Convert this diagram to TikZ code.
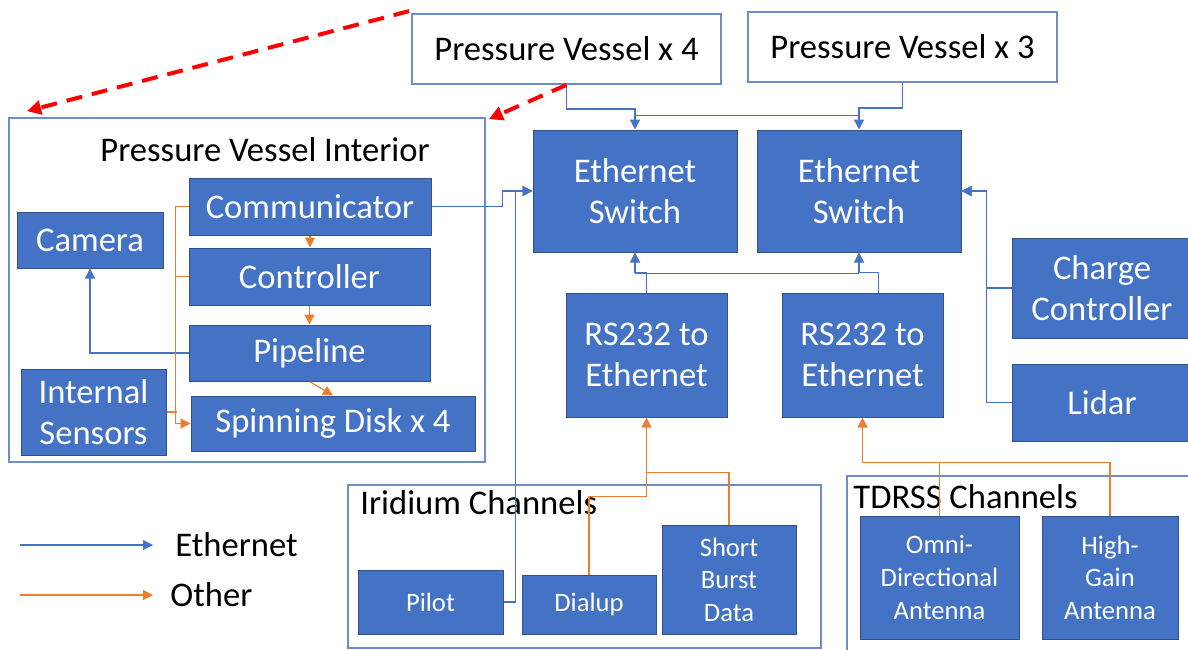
\documentclass[tikz,border=0pt]{standalone}
\usepackage{fontspec}
\setmainfont{Carlito}
\usetikzlibrary{arrows.meta, positioning, calc}
\definecolor{blkfill}{HTML}{4472C4}
\definecolor{blkline}{HTML}{2F528F}
\definecolor{ethblue}{HTML}{4472C4}
\definecolor{othorange}{HTML}{ED7D31}
\definecolor{frameblue}{HTML}{6E8CC8}

\begin{document}
\begin{tikzpicture}[
    x=0.5pt, y=-0.5pt,
    blk/.style={rectangle, draw=blkline, line width=0.5pt, fill=blkfill,
                text=white, align=center, inner sep=0pt,
                font=\fontsize{17.3}{20.8}\selectfont},
    sblk/.style={blk, font=\fontsize{13.3}{16.3}\selectfont},
    frame/.style={rectangle, draw=frameblue, line width=0.9pt, inner sep=0pt},
    pvbox/.style={frame, fill=white, font=\fontsize{17.3}{20.8}\selectfont},
    title/.style={inner sep=0pt, font=\fontsize{17.3}{20.8}\selectfont},
    eth/.style={draw=ethblue, line width=0.6pt, -{Triangle[length=5pt, width=5pt]}},
    ethl/.style={draw=ethblue, line width=0.6pt},
    oth/.style={draw=othorange, line width=0.6pt, -{Triangle[length=5pt, width=5pt]}},
    othl/.style={draw=othorange, line width=0.6pt},
    pvlink/.style={draw=red, line width=2pt, dash pattern=on 8pt off 5pt,
                   -{Triangle[length=7pt, width=7pt]}}
]
\useasboundingbox (0,0) rectangle (1188,649);

% containers
\node[frame, minimum width=238pt, minimum height=172pt] (int) at (247,290) {};
\node[title] (inttxt) at (265,150) {Pressure Vessel Interior};
\node[frame, minimum width=236.5pt, minimum height=81.5pt] (irid) at (584.5,566.5) {};
\node[title, anchor=west] (iridtxt) at (360,503) {Iridium Channels};
\node[frame, minimum width=174pt, minimum height=92pt] (tdrss) at (1021,568) {};
\node[title, anchor=west] (tdrsstxt) at (853,497) {TDRSS Channels};

% pressure vessels
\node[pvbox, minimum width=154.5pt, minimum height=35pt] (pv4) at (566.5,49) {Pressure Vessel x 4};
\node[pvbox, minimum width=154.5pt, minimum height=35pt] (pv3) at (902.5,47) {Pressure Vessel x 3};

% interior blocks
\node[blk, minimum width=121pt, minimum height=28.5pt] (comm) at (310,206.5) {Communicator};
\node[blk, minimum width=73pt, minimum height=28pt] (cam) at (90,240) {Camera};
\node[blk, minimum width=120.5pt, minimum height=28.5pt] (ctrl) at (309.5,276.5) {Controller};
\node[blk, minimum width=120.5pt, minimum height=28pt] (pipe) at (309.5,353) {Pipeline};
\node[blk, minimum width=72.5pt, minimum height=43pt] (sens) at (93.5,412) {Internal\\Sensors};
\node[blk, minimum width=142pt, minimum height=27.5pt] (disk) at (333,423.5) {Spinning Disk x 4};

% switches and converters
\node[blk, minimum width=102pt, minimum height=61pt] (es1) at (635,191) {Ethernet\\Switch};
\node[blk, minimum width=102pt, minimum height=61pt] (es2) at (859,191) {Ethernet\\Switch};
\node[blk, minimum width=80.5pt, minimum height=62pt] (rs1) at (646.5,355) {RS232 to\\Ethernet};
\node[blk, minimum width=80.5pt, minimum height=62pt] (rs2) at (862.5,355) {RS232 to\\Ethernet};
\node[blk, minimum width=90pt, minimum height=50pt] (charge) at (1102,288) {Charge\\Controller};
\node[blk, minimum width=90pt, minimum height=38.5pt] (lidar) at (1102,402.5) {Lidar};

% channels
\node[sblk, minimum width=72.5pt, minimum height=32pt] (pilot) at (430.5,602) {Pilot};
\node[sblk, minimum width=67pt, minimum height=29.5pt] (dial) at (589,604.5) {Dialup};
\node[sblk, minimum width=67pt, minimum height=54.5pt] (sbd) at (729,579.5) {Short\\Burst\\Data};
\node[sblk, minimum width=79.5pt, minimum height=61.5pt] (omni) at (939.5,577.5) {Omni-\\Directional\\Antenna};
\node[sblk, minimum width=68pt, minimum height=61.5pt] (hg) at (1110,577.5) {High-\\Gain\\Antenna};

% ethernet links
\draw[eth] (pv4.south) -- ++(0,24) -| (es1.north);
\draw[eth] (pv3.south) -- ++(0,25) -| (es2.north);
\draw[ethl] ($(es1.north)+(0,-14)$) -- ($(es2.north)+(0,-14)$);
\draw[eth] (comm.east) -- ++(71,0) |- (es1.west);
\draw[eth] (pilot.east) -- ++(12,0) |- (es1.west);
\draw[eth] (rs1.north) -- ++(0,-20) -| (es1.south);
\draw[eth] ($(rs2.north)+(16,0)$) -- ++(0,-20) -| (es2.south);
\draw[ethl] ($(es1.south)+(0,21)$) -- ($(es2.south)+(0,21)$);
\draw[eth] (charge.west) -- ++(-25,0) |- (es2.east);
\draw[eth] (lidar.west) -- ++(-25,0) |- (es2.east);
\draw[eth] (pipe.west) -| (cam.south);

% other links
\draw[oth] (comm.south) -- (comm.south |- ctrl.north);
\draw[oth] (ctrl.south) -- (pipe.north);
\draw[oth] (pipe.south) -- (disk.north);
\draw[oth] (comm.west) -- ++(-13,0) |- (disk.west);
\draw[othl] (ctrl.west) -- ++(-13,0);
\draw[othl] (sens.east) -- ++(10,0);
\draw[oth] (dial.north) -- ++(0,-78) -| (rs1.south);
\draw[othl] (sbd.north) |- ($(rs1.south)+(0,55)$);
\draw[oth] (hg.north) -- ++(0,-53) -| (rs2.south);
\draw[othl] (omni.north) -- ++(0,-53);

% pressure vessel expansion
\draw[pvlink] ($(pv4.north west)+(-2,-2)$) -- ($(int.north west)+(19,-6)$);
\draw[pvlink] (pv4.south) -- ($(int.north east)+(3,2)$);

% legend
\coordinate (ethA) at (20,545);
\coordinate (ethB) at (153,545);
\coordinate (othA) at (20,595);
\coordinate (othB) at (153,595);
\draw[eth] (ethA) -- (ethB);
\draw[oth] (othA) -- (othB);
\node[title, anchor=west] (ethtxt) at (175,545) {Ethernet};
\node[title, anchor=west] (othtxt) at (170,595) {Other};
\end{tikzpicture}
\end{document}
